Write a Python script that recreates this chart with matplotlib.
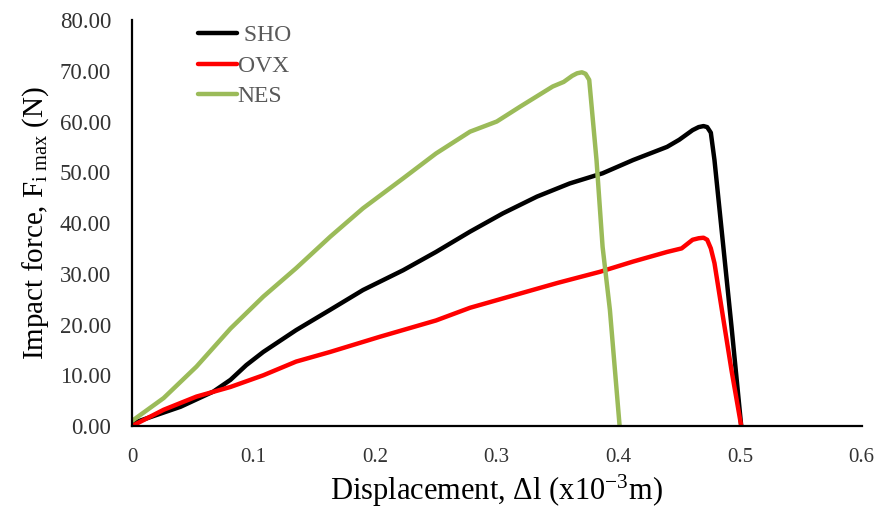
import numpy as np
import matplotlib
matplotlib.use("Agg")
import matplotlib.pyplot as plt

plt.rcParams['font.family'] = ['Liberation Serif', 'DejaVu Serif']
plt.rcParams['mathtext.fontset'] = 'custom'
plt.rcParams['mathtext.rm'] = 'Liberation Serif'
plt.rcParams['mathtext.it'] = 'Liberation Serif:italic'

# displacement (x10^-3 m) and impact force (N)
sho_x = [0.0, 0.012, 0.040, 0.067, 0.081, 0.094, 0.108, 0.135, 0.163, 0.190, 0.223,
         0.250, 0.278, 0.305, 0.333, 0.360, 0.387, 0.412, 0.440, 0.450, 0.461,
         0.466, 0.470, 0.473, 0.476, 0.479, 0.486, 0.493, 0.501]
sho_y = [0.5, 1.5, 3.8, 6.8, 9.1, 12.0, 14.6, 18.9, 22.9, 26.8, 30.7,
         34.3, 38.3, 41.9, 45.2, 47.8, 49.8, 52.4, 55.0, 56.4, 58.3,
         58.9, 59.1, 58.9, 57.8, 52.4, 36.0, 19.6, 0.0]

ovx_x = [0.0, 0.026, 0.053, 0.081, 0.108, 0.135, 0.163, 0.204, 0.250, 0.278, 0.300,
         0.350, 0.385, 0.412, 0.440, 0.452, 0.461, 0.466, 0.470, 0.473, 0.476,
         0.479, 0.486, 0.493, 0.501]
ovx_y = [0.0, 3.2, 5.8, 7.7, 10.0, 12.7, 14.6, 17.6, 20.8, 23.3, 24.8,
         28.2, 30.4, 32.4, 34.3, 35.0, 36.7, 37.0, 37.1, 36.7, 35.0,
         32.1, 21.5, 11.0, 0.0]

nes_x = [0.0, 0.026, 0.053, 0.081, 0.108, 0.135, 0.163, 0.190, 0.223, 0.250, 0.278,
         0.300, 0.319, 0.346, 0.355, 0.362, 0.366, 0.370, 0.373, 0.376, 0.382,
         0.387, 0.393, 0.401]
nes_y = [1.0, 5.5, 11.7, 19.2, 25.5, 31.1, 37.3, 42.9, 48.8, 53.7, 58.0,
         60.0, 62.9, 66.9, 67.8, 69.0, 69.5, 69.7, 69.4, 68.2, 52.4,
         35.3, 22.9, 0.0]

fig = plt.figure(figsize=(8.81, 5.09), dpi=100)
ax = fig.add_axes([0.1498, 0.163, 0.8282, 0.7977])

kw = dict(lw=3.2, solid_joinstyle='round', solid_capstyle='round')
ax.plot(sho_x, sho_y, color='black', label=' SHO', **kw)
ax.plot(ovx_x, ovx_y, color='#ff0000', label='OVX', **kw)
ax.plot(nes_x, nes_y, color='#9bbb59', label='NES', **kw)

ax.set_xlim(0, 0.6)
ax.set_ylim(0, 80)
ax.set_xticks(np.arange(0, 0.61, 0.1))
ax.set_xticklabels(['0', '0.1', '0.2', '0.3', '0.4', '0.5', '0.6'])
ax.set_yticks(np.arange(0, 81, 10))
ax.set_yticklabels(['%.2f' % v for v in np.arange(0, 81, 10)])
ax.tick_params(length=0, colors='#333333')
ax.tick_params(axis='y', labelsize=16.5, pad=15)
ax.tick_params(axis='x', labelsize=15, pad=16)

for s in ['top', 'right']:
    ax.spines[s].set_visible(False)
for s in ['left', 'bottom']:
    ax.spines[s].set_linewidth(1.6)
    ax.spines[s].set_color('black')

ax.set_xlabel(r'Displacement, $\Delta$l (x10$^{-3}$m)', fontsize=22, labelpad=4)
ax.set_ylabel(r'Impact force, F$_{\mathrm{i\ max}}$ (N)', fontsize=21, labelpad=6)

leg = ax.legend(loc='upper left', bbox_to_anchor=(0.09, 0.988), frameon=False,
                fontsize=17, handlelength=1.65, handletextpad=0.05, labelspacing=0.38,
                borderpad=0, borderaxespad=0)
for t in leg.get_texts():
    t.set_color('#595959')

fig.savefig('out.png', dpi=100)
